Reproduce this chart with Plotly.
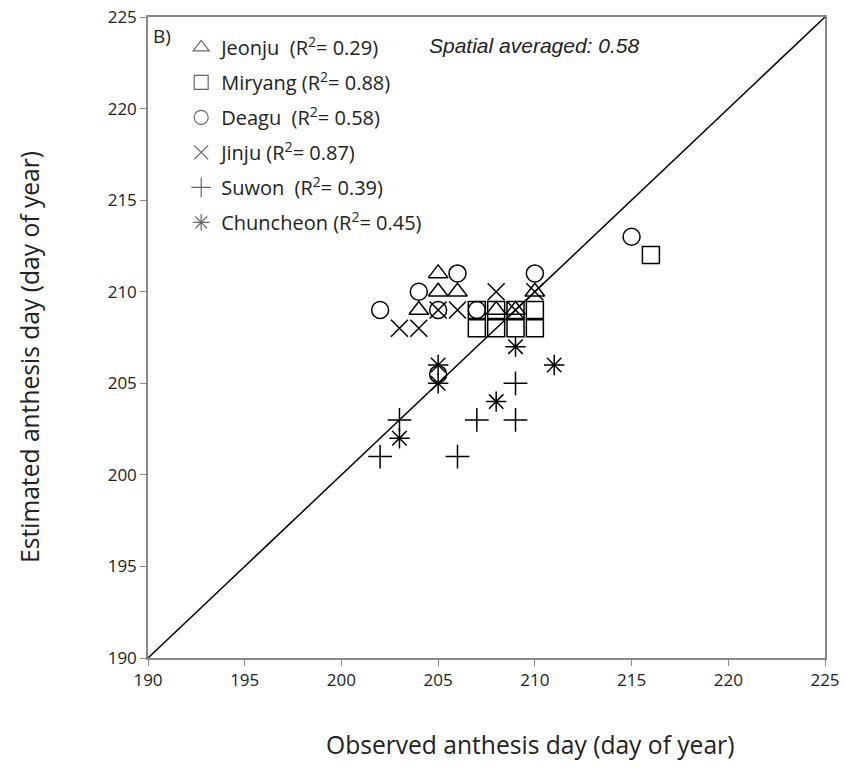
import plotly.graph_objects as go

# Observed (x) vs estimated (y) anthesis day
jeonju_x = [204, 205, 205, 206, 208, 209, 210]
jeonju_y = [209, 211, 210, 210, 209, 209, 210]

miryang_x = [207, 208, 209, 210, 207, 208, 209, 210, 216]
miryang_y = [208, 208, 208, 208, 209, 209, 209, 209, 212]

deagu_x = [202, 204, 205, 206, 207, 210, 215, 205]
deagu_y = [209, 210, 209, 211, 209, 211, 213, 205.5]

jinju_x = [203, 204, 205, 206, 208, 209, 210]
jinju_y = [208, 208, 209, 209, 210, 209, 210]

suwon_x = [202, 203, 206, 207, 209, 209]
suwon_y = [201, 203, 201, 203, 205, 203]

chuncheon_x = [203, 205, 205, 208, 209, 211]
chuncheon_y = [202, 206, 205, 204, 207, 206]

series = [
    ("Jeonju  (R<sup>2</sup>= 0.29)", jeonju_x, jeonju_y, "triangle-up-open"),
    ("Miryang (R<sup>2</sup>= 0.88)", miryang_x, miryang_y, "square-open"),
    ("Deagu  (R<sup>2</sup>= 0.58)", deagu_x, deagu_y, "circle-open"),
    ("Jinju (R<sup>2</sup>= 0.87)", jinju_x, jinju_y, "x-thin-open"),
    ("Suwon  (R<sup>2</sup>= 0.39)", suwon_x, suwon_y, "cross-thin-open"),
    ("Chuncheon (R<sup>2</sup>= 0.45)", chuncheon_x, chuncheon_y, "asterisk-open"),
]

axis_range = [190, 225]
tick_vals = [190, 195, 200, 205, 210, 215, 220, 225]

x_title = "Observed anthesis day (day of year)"
y_title = "Estimated anthesis day (day of year)"

fig = go.Figure()

# 1:1 line
fig.add_trace(go.Scatter(x=axis_range, y=axis_range, mode="lines",
                         line=dict(color="black", width=1.5),
                         showlegend=False, hoverinfo="skip"))

for i, (name, xs, ys, sym) in enumerate(series):
    fig.add_trace(go.Scatter(
        x=xs, y=ys, mode="markers", name=name, showlegend=False,
        marker=dict(symbol=sym, size=17, color="black",
                    line=dict(color="black", width=1.5)),
    ))

# legend-only entries (grey, smaller symbols as in the reference)
for i, (name, xs, ys, sym) in enumerate(series):
    fig.add_trace(go.Scatter(
        x=[None], y=[None], mode="markers", name=name, legendgroup=f"g{i}",
        marker=dict(symbol=sym, size=14, color="#666666",
                    line=dict(color="#666666", width=1.2)),
    ))

font_family = "Open Sans, Noto Sans, Arial"

# plot area: x 148..825 px, y 17..658 px of the 858x771 window
fig.update_layout(
    width=858, height=771,
    margin=dict(l=148, r=33, t=17, b=113),
    plot_bgcolor="white", paper_bgcolor="white",
    font=dict(family=font_family, color="#222222"),
    showlegend=True,
    legend=dict(
        x=0.049, y=0.983, xanchor="left", yanchor="top",
        bgcolor="rgba(0,0,0,0)", font=dict(size=20, family=font_family, color="#222222"),
        tracegroupgap=6, traceorder="grouped", itemwidth=30,
    ),
    xaxis=dict(range=axis_range, tickvals=tick_vals, showgrid=False, zeroline=False,
               automargin=False, ticklabeloverflow="allow",
               showline=True, linecolor="#888888", linewidth=1.5, mirror=True,
               ticks="outside", ticklen=6, tickcolor="#888888",
               tickfont=dict(size=17)),
    yaxis=dict(range=axis_range, tickvals=tick_vals, showgrid=False, zeroline=False,
               automargin=False, ticklabeloverflow="allow",
               showline=True, linecolor="#888888", linewidth=1.5, mirror=True,
               ticks="outside", ticklen=6, tickcolor="#888888",
               tickfont=dict(size=17)),
    annotations=[
        dict(text=x_title, xref="paper", yref="paper", x=0.564, y=-0.135,
             xanchor="center", yanchor="middle", showarrow=False,
             font=dict(size=24.6, family=font_family, color="#222222")),
        dict(text=y_title, xref="paper", yref="paper", x=-0.174, y=0.47,
             xanchor="center", yanchor="middle", showarrow=False, textangle=-90,
             font=dict(size=24.6, family=font_family, color="#222222")),
        dict(text="B)", xref="paper", yref="paper", x=0.004, y=0.993,
             xanchor="left", yanchor="top", showarrow=False,
             font=dict(size=19, family=font_family, color="#222222")),
        dict(text="<i>Spatial averaged: 0.58</i>", xref="paper", yref="paper",
             x=0.412, y=0.956, xanchor="left", yanchor="middle", showarrow=False,
             font=dict(size=21, family="Liberation Sans, Arial", color="#222222")),
    ],
)

fig.write_html("out.html",
               config={"displayModeBar": False},
               post_script="document.body.style.margin='0';document.body.style.overflow='hidden';")
